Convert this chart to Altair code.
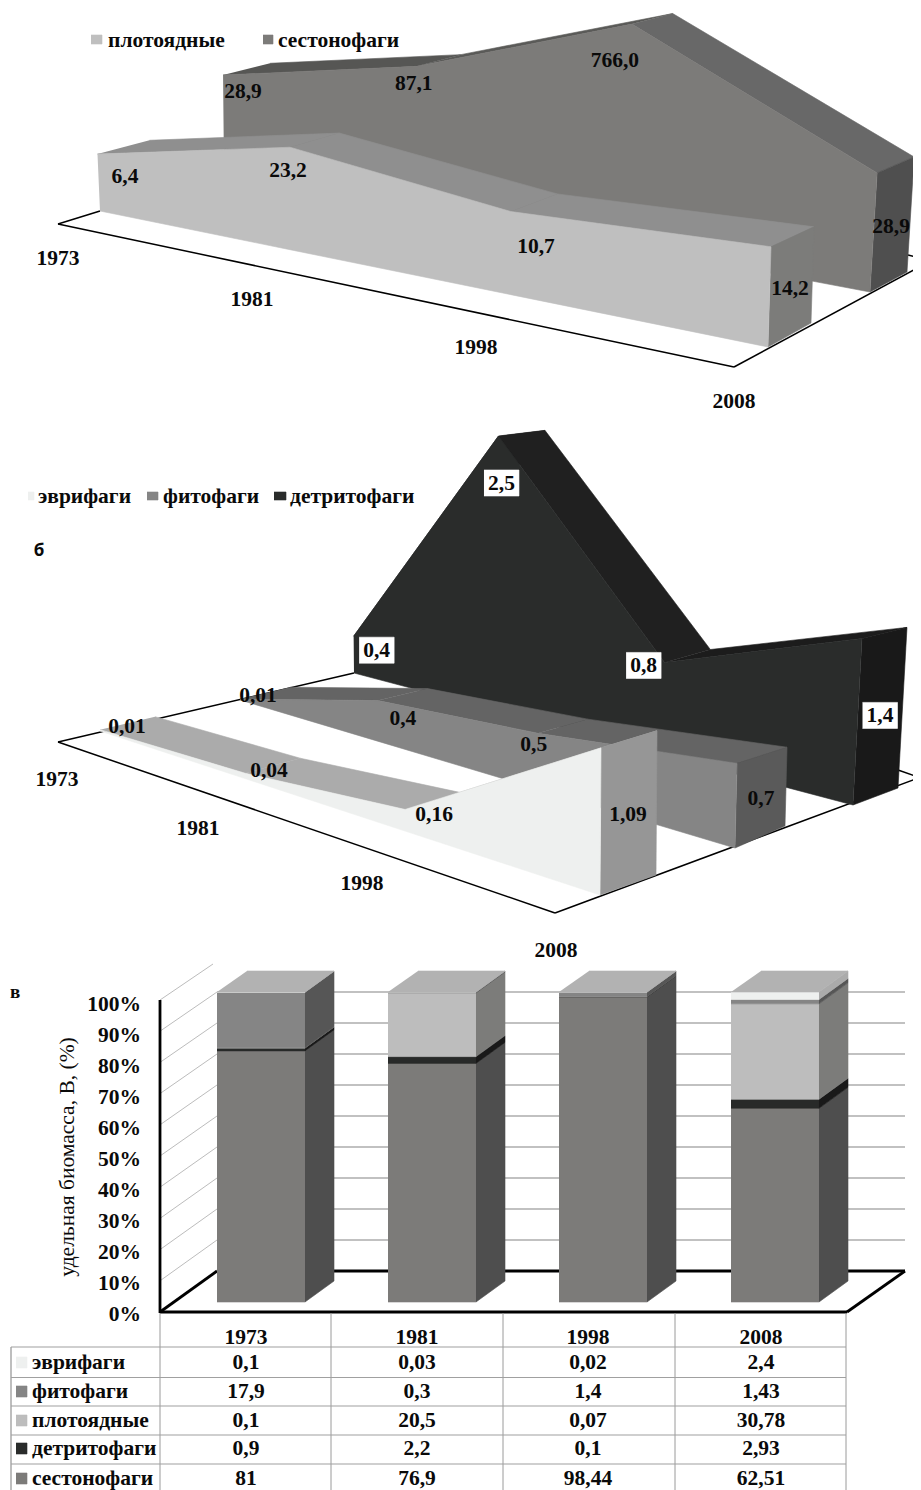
import math

import altair as alt
import pandas as pd

# ------------------------------------------------------------------ data
YEARS = ["1973", "1981", "1998", "2008"]

# panel a (values on a logarithmic height axis)
CARNIVORES_A = [6.4, 23.2, 10.7, 14.2]
SESTON_A = [28.9, 87.1, 766.0, 28.9]

# panel b (values on a linear height axis)
DETRITUS_B = [0.4, 2.5, 0.8, 1.4]
PHYTO_B = [0.01, 0.4, 0.5, 0.7]
EURY_B = [0.01, 0.04, 0.16, 1.09]

# panel c (stacked shares, %)
SESTON_C = [81, 76.9, 98.44, 62.51]
DETRITUS_C = [0.9, 2.2, 0.1, 2.93]
CARNIVORES_C = [0.1, 20.5, 0.07, 30.78]
PHYTO_C = [17.9, 0.3, 1.4, 1.43]
EURY_C = [0.1, 0.03, 0.02, 2.4]
PCT_TICKS = [0, 10, 20, 30, 40, 50, 60, 70, 80, 90, 100]

N_EURY, N_PHYTO, N_CARN, N_DETR, N_SEST = (
    "эврифаги", "фитофаги", "плотоядные", "детритофаги", "сестонофаги")

# ------------------------------------------------------------------ helpers
polys, segs, texts, rows = [], [], [], []
FS = 21.5


def poly(pts, fill):
    pid = len(polys)
    polys.append(pid)
    for k, (x, y) in enumerate(pts):
        rows.append(dict(pid=pid, ord=k, x=x, y=y, fill=fill))


def seg(x, y, x2, y2, color="#000000", w=1.5):
    segs.append(dict(x=x, y=y, x2=x2, y2=y2, c=color, w=w))


def text(x, y, s, size=FS, align="center"):
    texts.append(dict(x=x, y=y + 1, t=s, s=size, a=align))


def fmt(v):
    return str(v).replace(".", ",")


def ribbon(values, geo, offsets, colors, boxed=False):
    """Project one series of a 3-D area chart on the picture plane."""
    (xl, yl), (xr, yr) = geo["left"], geo["right"]
    fn = geo["height"]
    front, back, base_f, base_b = [], [], [], []
    for v, u in zip(values, geo["u"]):
        s = geo["s0"] + (geo["s1"] - geo["s0"]) * u ** geo["p"]
        h = fn(v) * s
        lean = geo["lean"][0] + (geo["lean"][1] - geo["lean"][0]) * u
        bx, by = xl + (xr - xl) * u, yl + (yr - yl) * u
        dx = geo["dx"][0] + (geo["dx"][1] - geo["dx"][0]) * u
        dy = geo["dy"][0] + (geo["dy"][1] - geo["dy"][0]) * u
        front.append((bx + lean * h, by - h))
        back.append((bx + dx + lean * h, by + dy - h * geo["k"]))
        base_f.append((bx, by))
        base_b.append((bx + dx, by + dy))
    # top strips, then right side, then the front face
    for i in range(3):
        poly([front[i], front[i + 1], back[i + 1], back[i]], colors["strip"][i])
    poly([front[3], back[3], base_b[3], base_f[3]], colors["side"])
    poly(front + base_f[::-1], colors["face"])
    for p, off, v in zip(front, offsets, values):
        lx, ly = p[0] + off[0], p[1] + off[1]
        if boxed:
            poly([(lx - 17.5, ly - 13), (lx + 17.5, ly - 13),
                  (lx + 17.5, ly + 13), (lx - 17.5, ly + 13)], "#ffffff")
        text(lx, ly, fmt(v))


def lin(v):
    return v


# ------------------------------------------------------------------ panel a
seg(58, 224, 734, 367)
seg(734, 367, 921, 266)
seg(58, 224, 100, 211)
seg(908, 255, 921, 258)

ribbon(SESTON_A,
       dict(left=(224, 170), right=(870, 292), u=[0, .296, .62, 1], s0=65, s1=81.5, p=.7,
            lean=(-.01, .06), dx=(47, 37), dy=(-15, -20), k=.966, height=math.log10),
       [(20, 16), (-3, 17), (-17, 36), (14, 53)],
       dict(strip=["#565654", "#5a5a58", "#686868"], side="#4f4f4f", face="#7c7b79"))
ribbon(CARNIVORES_A,
       dict(left=(100, 211), right=(768, 347), u=[0, .288, .615, 1], s0=70.7, s1=87, p=1,
            lean=(-.044, .03), dx=(52, 43), dy=(-16, -24), k=.96, height=math.log10),
       [(27.5, 22), (-2, 23), (25, 34), (19, 41)],
       dict(strip=["#8f8f8f", "#8f8f8f", "#8f8f8f"], side="#7c7c7a", face="#bfbfbf"))

for year, pos in zip(YEARS, [(58, 258), (252, 299), (476, 347), (734, 401)]):
    text(pos[0], pos[1], year)

poly([(91, 35), (102, 35), (102, 44), (91, 44)], "#bfbfbf")
text(108, 40, N_CARN, align="left")
poly([(263, 35), (273, 35), (273, 44), (263, 44)], "#7c7b79")
text(278, 40, N_SEST, align="left")

# ------------------------------------------------------------------ panel b
seg(58, 742, 555, 913)
seg(555, 913, 921, 777)
seg(58, 742, 354, 673)
seg(898, 770, 921, 778)

ribbon(DETRITUS_B,
       dict(left=(354, 673), right=(853, 805), u=[0, .285, .617, 1], s0=92, s1=119, p=.33,
            lean=(-.01, .054), dx=(47, 45), dy=(-15, -17), k=.964, height=lin),
       [(23, 14), (3, 47), (-21, 3), (18, 77)],
       dict(strip=["#202020", "#202020", "#1c1c1c"], side="#191919", face="#2a2c2b"),
       boxed=True)
ribbon(PHYTO_B,
       dict(left=(240, 700), right=(735, 848), u=[0, .278, .6, 1], s0=88, s1=121, p=.7,
            lean=(0, .024), dx=(50, 50), dy=(-12, -22), k=.93, height=lin),
       [(18, -4), (25, 17), (-4, 11), (24, 35)],
       dict(strip=["#646464", "#646464", "#646464"], side="#5a5a5a", face="#858585"))
ribbon(EURY_B,
       dict(left=(100, 731), right=(600, 895), u=[0, .29, .61, 1], s0=135, s1=135, p=1,
            lean=(0, .007), dx=(55, 56), dy=(-13, -20), k=.98, height=lin),
       [(27, -4), (24, -3), (29, 5), (27, 66)],
       dict(strip=["#ababab", "#ababab", "#ababab"], side="#969696", face="#eef0ef"))

for year, pos in zip(YEARS, [(57, 779), (198, 828), (362, 883), (556, 950)]):
    text(pos[0], pos[1], year)

poly([(28, 492), (34, 492), (34, 500), (28, 500)], "#eef0ef")
text(38, 496, N_EURY, align="left")
poly([(147, 492), (158, 492), (158, 500), (147, 500)], "#858585")
text(163, 496, N_PHYTO, align="left")
poly([(274, 492), (286, 492), (286, 500), (274, 500)], "#2a2c2b")
text(290, 496, N_DETR, align="left")

# ------------------------------------------------------------------ panel c
WALL_BACK = 1271     # back wall y of 0 %
WALL_FRONT = 1312    # front y of 0 %
for p in PCT_TICKS[1:]:
    yb, yf = WALL_BACK - p * 3.1, WALL_FRONT - p * 3.12
    if p < 100:
        seg(217, yb, 905, yb, "#adadad", 1.4)
        seg(160, yf, 217, yb, "#bcbcbc", 1)
    else:
        seg(160, yf, 213, yf - 36, "#bcbcbc", 1)
for p in PCT_TICKS:
    text(141, 1314 - p * 3.1, f"{p}%", align="right")

seg(160, 1000, 160, 1313, "#000000", 2.8)
seg(160, 1312, 847, 1312, "#000000", 2.8)
seg(847, 1312, 905, 1271, "#000000", 2.8)
seg(217, 1271, 905, 1271, "#000000", 2.8)
seg(160, 1312, 217, 1271, "#000000", 2.8)

BAR_LEFT = [217, 388, 559, 731]
BAR_W, BAR_DX, BAR_DY = 88, 29, -21
STACKS = [
    (SESTON_C, "#7c7b79", "#4e4e4e"),
    (DETRITUS_C, "#282a29", "#191919"),
    (CARNIVORES_C, "#bdbdbd", "#7c7c7a"),
    (PHYTO_C, "#858585", "#565656"),
    (EURY_C, "#eef0ef", "#ababab"),
]
for b, left in enumerate(BAR_LEFT):
    total = sum(s[0][b] for s in STACKS)
    acc = 0.0
    y0 = 1302.0
    for vals, face, side in STACKS:
        y1 = 1302.0 - (acc + vals[b]) / total * 310
        poly([(left, y0), (left + BAR_W, y0), (left + BAR_W, y1), (left, y1)], face)
        r = left + BAR_W
        poly([(r, y0), (r + BAR_DX, y0 + BAR_DY), (r + BAR_DX, y1 + BAR_DY), (r, y1)], side)
        acc += vals[b]
        y0 = y1
    r = left + BAR_W
    poly([(left, y0), (r, y0), (r + BAR_DX, y0 + BAR_DY),
          (left + BAR_DX + 1, y0 + BAR_DY)], "#b2b2b2")

# table under panel c
COL_X = [160, 331, 503, 675, 846]
for x in COL_X:
    seg(x, 1313, x, 1347, "#9a9a9a", 1)
    seg(x, 1347, x, 1490, "#9a9a9a", 1)
seg(11, 1347, 11, 1490, "#a8a8a8", 1.5)
for y in [1347, 1377.5, 1406, 1435, 1464]:
    seg(11, y, 846, y, "#a0a0a0", 1.2)

COL_C = [246, 417, 588, 761]
for year, x in zip(YEARS, COL_C):
    text(x, 1337, year)
TABLE = [
    (N_EURY, EURY_C, "#eef0ef", 1363),
    (N_PHYTO, PHYTO_C, "#858585", 1392),
    (N_CARN, CARNIVORES_C, "#bdbdbd", 1421),
    (N_DETR, DETRITUS_C, "#2a2c2b", 1449),
    (N_SEST, SESTON_C, "#7c7b79", 1479),
]
for name, vals, col, y in TABLE:
    poly([(16, y - 6), (27, y - 6), (27, y + 5), (16, y + 5)], col)
    text(32, y - 1, name, align="left")
    for v, x in zip(vals, COL_C):
        text(x, y - 1, fmt(v))

# ------------------------------------------------------------------ chart
X = alt.X("x:Q", scale=alt.Scale(domain=[8, 913], nice=False, zero=False), axis=None)
Y = alt.Y("y:Q", scale=alt.Scale(domain=[1490, 8], nice=False, zero=False), axis=None)

rules = alt.Chart(pd.DataFrame(segs)).mark_rule().encode(
    x=X, y=Y, x2="x2:Q", y2="y2:Q",
    stroke=alt.Stroke("c:N", scale=None),
    strokeWidth=alt.StrokeWidth("w:Q", scale=None),
)
shapes = alt.Chart(pd.DataFrame(rows)).mark_line(strokeWidth=0.6, interpolate="linear").encode(
    x=X, y=Y,
    detail="pid:N",
    order="ord:Q",
    fill=alt.Fill("fill:N", scale=None),
    stroke=alt.Stroke("fill:N", scale=None),
)
tdf = pd.DataFrame(texts)
font = dict(font="Liberation Serif", fontWeight="bold", color="#0a0a0a", baseline="middle")
labels_c = alt.Chart(tdf[tdf.a == "center"]).mark_text(align="center", **font).encode(
    x=X, y=Y, text="t:N", size=alt.Size("s:Q", scale=None))
labels_l = alt.Chart(tdf[tdf.a == "left"]).mark_text(align="left", **font).encode(
    x=X, y=Y, text="t:N", size=alt.Size("s:Q", scale=None))
labels_r = alt.Chart(tdf[tdf.a == "right"]).mark_text(align="right", **font).encode(
    x=X, y=Y, text="t:N", size=alt.Size("s:Q", scale=None))

ytitle = alt.Chart(pd.DataFrame([dict(x=68, y=1157, t="удельная биомасса, В, (%)")])).mark_text(
    font="Liberation Serif", fontSize=21.5, angle=270, color="#0a0a0a", baseline="middle", align="center"
).encode(x=X, y=Y, text="t:N")
panel_b = alt.Chart(pd.DataFrame([dict(x=39, y=551, t="б")])).mark_text(
    font="Open Sans", fontWeight="bold", fontSize=17, color="#0a0a0a", baseline="middle"
).encode(x=X, y=Y, text="t:N")
panel_c = alt.Chart(pd.DataFrame([dict(x=15, y=992, t="в")])).mark_text(
    font="Liberation Serif", fontWeight="bold", fontSize=19, color="#0a0a0a", baseline="middle"
).encode(x=X, y=Y, text="t:N")

chart = alt.layer(rules, shapes, labels_c, labels_l, labels_r, ytitle, panel_b, panel_c).properties(
    width=905, height=1482, padding=0, autosize=alt.AutoSizeParams(type="none"),
    background="#ffffff",
).configure_view(strokeWidth=0)

chart.save("out.html", embed_options={"renderer": "svg", "actions": False})
